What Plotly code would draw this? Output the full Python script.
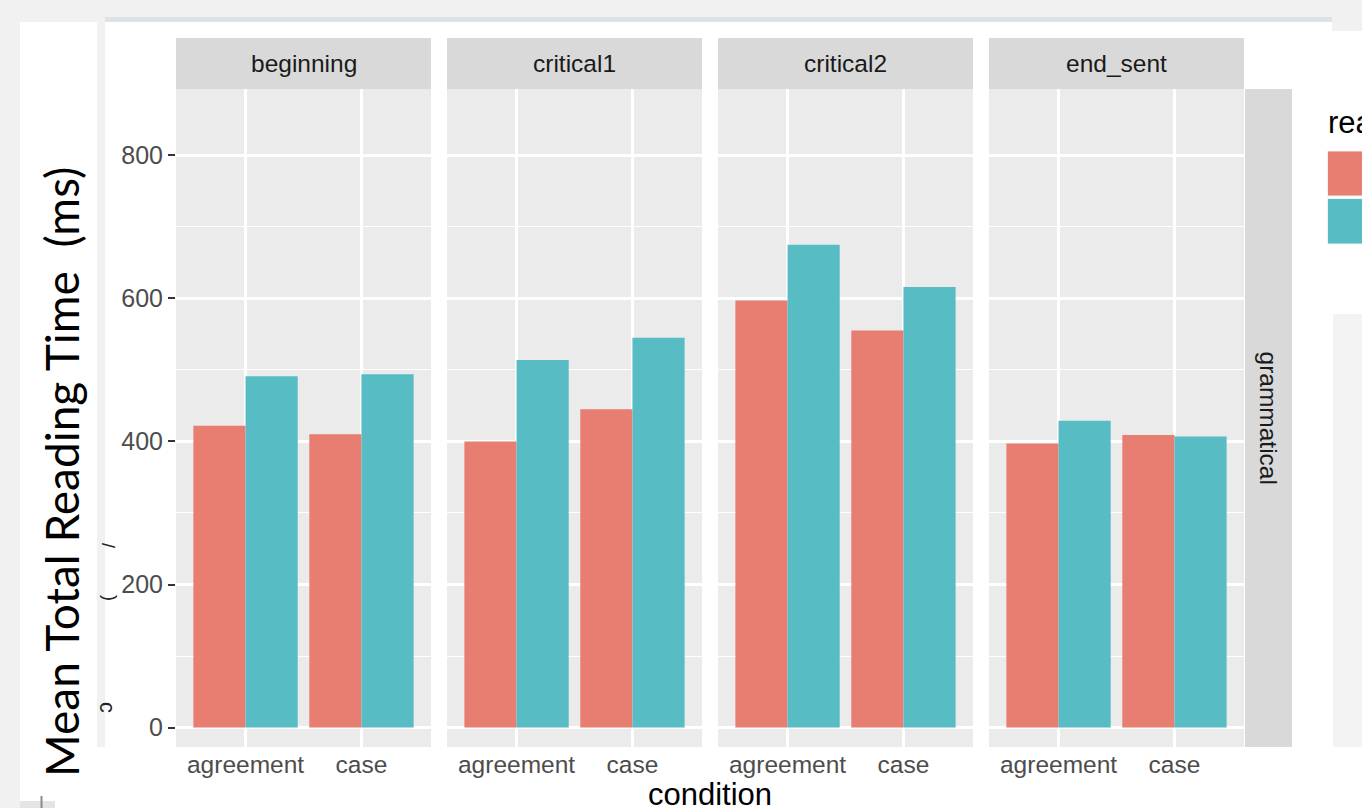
import plotly.graph_objects as go

W, H = 1362, 808

# ---- data -------------------------------------------------------------
regions = ["beginning", "critical1", "critical2", "end_sent"]
conditions = ["agreement", "case"]
# mean total reading time (ms), ordered region by region, agreement then case
series_a = [422, 410, 400, 445, 597, 555, 397, 409]
series_b = [491, 494, 514, 545, 675, 616, 429, 407]
y_ticks = [0, 200, 400, 600, 800]
y_minor = [100, 300, 500, 700]
row_label = "grammatical"

# ---- styling ----------------------------------------------------------
RED = "#E87D72"
TEAL = "#57BCC3"
PANEL = "#EBEBEB"
STRIP = "#D9D9D9"
OUTER = "#F1F1F1"
TXT = "#4D4D4D"
FONT = "Liberation Sans, Arial, Helvetica, sans-serif"

panel_px = [(176, 431), (447, 702), (718, 973), (989, 1244)]
panel_top, panel_bot = 89, 747
strip_top = 38
y_range = [-27.2, 892.8]


def fx(px):
    return px / W


def fy(py):
    return 1 - py / H


fig = go.Figure()
layout = dict(
    width=W, height=H, autosize=False,
    margin=dict(l=0, r=0, t=0, b=0),
    paper_bgcolor="white", plot_bgcolor=PANEL,
    barmode="group", bargap=0.1, bargroupgap=0,
    showlegend=False,
    font=dict(family=FONT, color=TXT),
)

shapes = []
annotations = []


def label(text, px, py, size, color, angle=0, family=FONT, xanchor="center"):
    annotations.append(dict(text=text, xref="paper", yref="paper", x=fx(px), y=fy(py),
                            xanchor=xanchor, yanchor="middle", textangle=angle,
                            showarrow=False, font=dict(size=size, color=color, family=family)))


for i, reg in enumerate(regions):
    n = "" if i == 0 else str(i + 1)
    a_vals = series_a[2 * i:2 * i + 2]
    b_vals = series_b[2 * i:2 * i + 2]
    fig.add_trace(go.Bar(x=conditions, y=a_vals, name="a", marker=dict(color=RED, line=dict(width=0)),
                         xaxis="x" + n, yaxis="y" + n, hoverinfo="x+y"))
    fig.add_trace(go.Bar(x=conditions, y=b_vals, name="b", marker=dict(color=TEAL, line=dict(width=0)),
                         xaxis="x" + n, yaxis="y" + n, hoverinfo="x+y"))
    x0, x1 = panel_px[i]
    layout["xaxis" + n] = dict(
        domain=[fx(x0), fx(x1)], anchor="y" + n, type="category",
        categoryorder="array", categoryarray=conditions,
        range=[-0.6, 1.6], showgrid=True, gridcolor="white", gridwidth=2.5,
        zeroline=False, showline=False, ticks="",
        tickfont=dict(size=24.5, color=TXT, family=FONT), fixedrange=True,
    )
    ya = dict(
        domain=[fy(panel_bot), fy(panel_top)], anchor="x" + n, range=y_range,
        tickvals=y_ticks, showgrid=True, gridcolor="white", gridwidth=2.5,
        minor=dict(tickvals=y_minor, showgrid=True, gridcolor="white", gridwidth=1.2),
        zeroline=False, showline=False, fixedrange=True,
    )
    if i == 0:
        ya.update(ticks="outside", ticklen=7, tickwidth=2, tickcolor="#333333",
                  tickfont=dict(size=25, color=TXT, family=FONT))
    else:
        ya.update(showticklabels=False, ticks="", matches="y")
    layout["yaxis" + n] = ya

    # facet strip on top
    shapes.append(dict(type="rect", xref="paper", yref="paper", x0=fx(x0), x1=fx(x1),
                       y0=fy(panel_top), y1=fy(strip_top), fillcolor=STRIP, line=dict(width=0)))
    label(reg, (x0 + x1) / 2, (strip_top + panel_top) / 2, 24.5, "#1A1A1A")

# ---- surrounding screen background ------------------------------------
bg = [
    (0, 0, W, 17, OUTER),          # top band
    (0, 0, 20, H, OUTER),          # left edge
    (0, 0, 105, 22, OUTER),        # top-left corner
    (97, 0, 105, panel_bot, OUTER),  # divider between label card and plot
    (105, 17, 1332, 22, "#DDE1E8"),  # thin window edge
    (1332, 0, W, 31, OUTER),       # top-right
    (1333, 314, W + 5, panel_bot, "#F3F3F3"),  # side card
    (0, 801, 55, H, "#E4E4E4"),
]
for x0, y0, x1, y1, c in bg:
    shapes.insert(0, dict(type="rect", xref="paper", yref="paper", x0=fx(x0), x1=fx(x1),
                          y0=fy(y1), y1=fy(y0), fillcolor=c, line=dict(width=0), layer="below"))
shapes.append(dict(type="line", xref="paper", yref="paper", x0=fx(41.5), x1=fx(41.5),
                   y0=fy(H), y1=fy(796), line=dict(color="#8A8A8A", width=2)))

# right-hand row strip
shapes.append(dict(type="rect", xref="paper", yref="paper", x0=fx(1245), x1=fx(1292),
                   y0=fy(panel_bot), y1=fy(panel_top), fillcolor=STRIP, line=dict(width=0)))
label(row_label, 1268.5, (panel_top + panel_bot) / 2, 24.5, "#1A1A1A", angle=90)

# legend (fill colour keys)
shapes.append(dict(type="rect", xref="paper", yref="paper", x0=fx(1327.5), x1=fx(W + 20),
                   y0=fy(196), y1=fy(151), fillcolor=RED, line=dict(color="#F2F2F2", width=1)))
shapes.append(dict(type="rect", xref="paper", yref="paper", x0=fx(1327.5), x1=fx(W + 20),
                   y0=fy(244), y1=fy(198.5), fillcolor=TEAL, line=dict(color="#F2F2F2", width=1)))
label("rea", 1326, 122, 31, "black", xanchor="left")

# axis titles
label("condition", 710, 794, 31, "black")
label("Mean Total Reading Time\u00a0 (ms)", 62, 472, 46, "black", angle=-90,
      family="Lato, sans-serif")
# fragments of an older title peeking from under the label card
for ch, px, py, sz in [("/", 109, 546, 18), ("(", 107, 598, 18), ("\u0254", 104, 708, 22)]:
    label(ch, px, py, sz, "#222222", angle=-90)

layout["shapes"] = shapes
layout["annotations"] = annotations
fig.update_layout(**layout)

fig.write_html("out.html")
